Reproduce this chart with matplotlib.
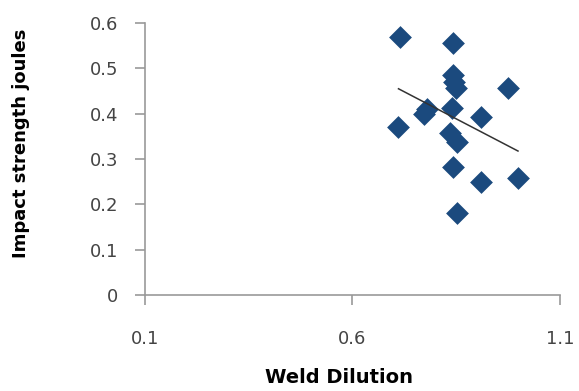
import numpy as np
import matplotlib.pyplot as plt

# Weld dilution vs impact strength
dilution = [0.715, 0.843, 0.843, 0.845, 0.850, 0.975, 0.772, 0.780, 0.839,
            0.911, 0.711, 0.835, 0.851, 0.843, 0.911, 0.999, 0.851]
impact = [0.569, 0.556, 0.486, 0.470, 0.456, 0.456, 0.400, 0.410, 0.412,
          0.392, 0.370, 0.357, 0.338, 0.283, 0.250, 0.258, 0.182]

x_ticks = [0.1, 0.6, 1.1]
y_ticks = [0, 0.1, 0.2, 0.3, 0.4, 0.5, 0.6]

fig = plt.figure(figsize=(5.79, 3.91), dpi=100)
ax = fig.add_axes([0.2504, 0.2455, 0.7166, 0.6955])

ax.scatter(dilution, impact, marker='D', s=135, color='#1b4a7e', zorder=3, linewidths=0)

# linear trendline over the data range
coef = np.polyfit(dilution, impact, 1)
xs = np.array([min(dilution), max(dilution)])
ax.plot(xs, np.polyval(coef, xs), color='#333333', linewidth=1.1, zorder=4)

ax.set_xlim(0.1, 1.1)
ax.set_ylim(0, 0.6)
ax.set_xticks(x_ticks)
ax.set_xticklabels(['0.1', '0.6', '1.1'])
ax.set_yticks(y_ticks)
ax.set_yticklabels(['0', '0.1', '0.2', '0.3', '0.4', '0.5', '0.6'])

for s in ('top', 'right'):
    ax.spines[s].set_visible(False)
for s in ('left', 'bottom'):
    ax.spines[s].set_color('#999999')
    ax.spines[s].set_linewidth(1.2)

ax.tick_params(axis='both', direction='out', length=7, width=1.2, color='#999999',
               labelsize=13, labelcolor='#444444')
ax.tick_params(axis='y', pad=12)
ax.tick_params(axis='x', pad=18)

ax.set_xlabel('Weld Dilution', fontsize=14, fontweight='bold')
ax.xaxis.set_label_coords(0.467, -0.27)
ax.set_ylabel('Impact strength joules', fontsize=13, fontweight='bold')
ax.yaxis.set_label_coords(-0.278, 0.559)

fig.savefig('out.png', dpi=100)
